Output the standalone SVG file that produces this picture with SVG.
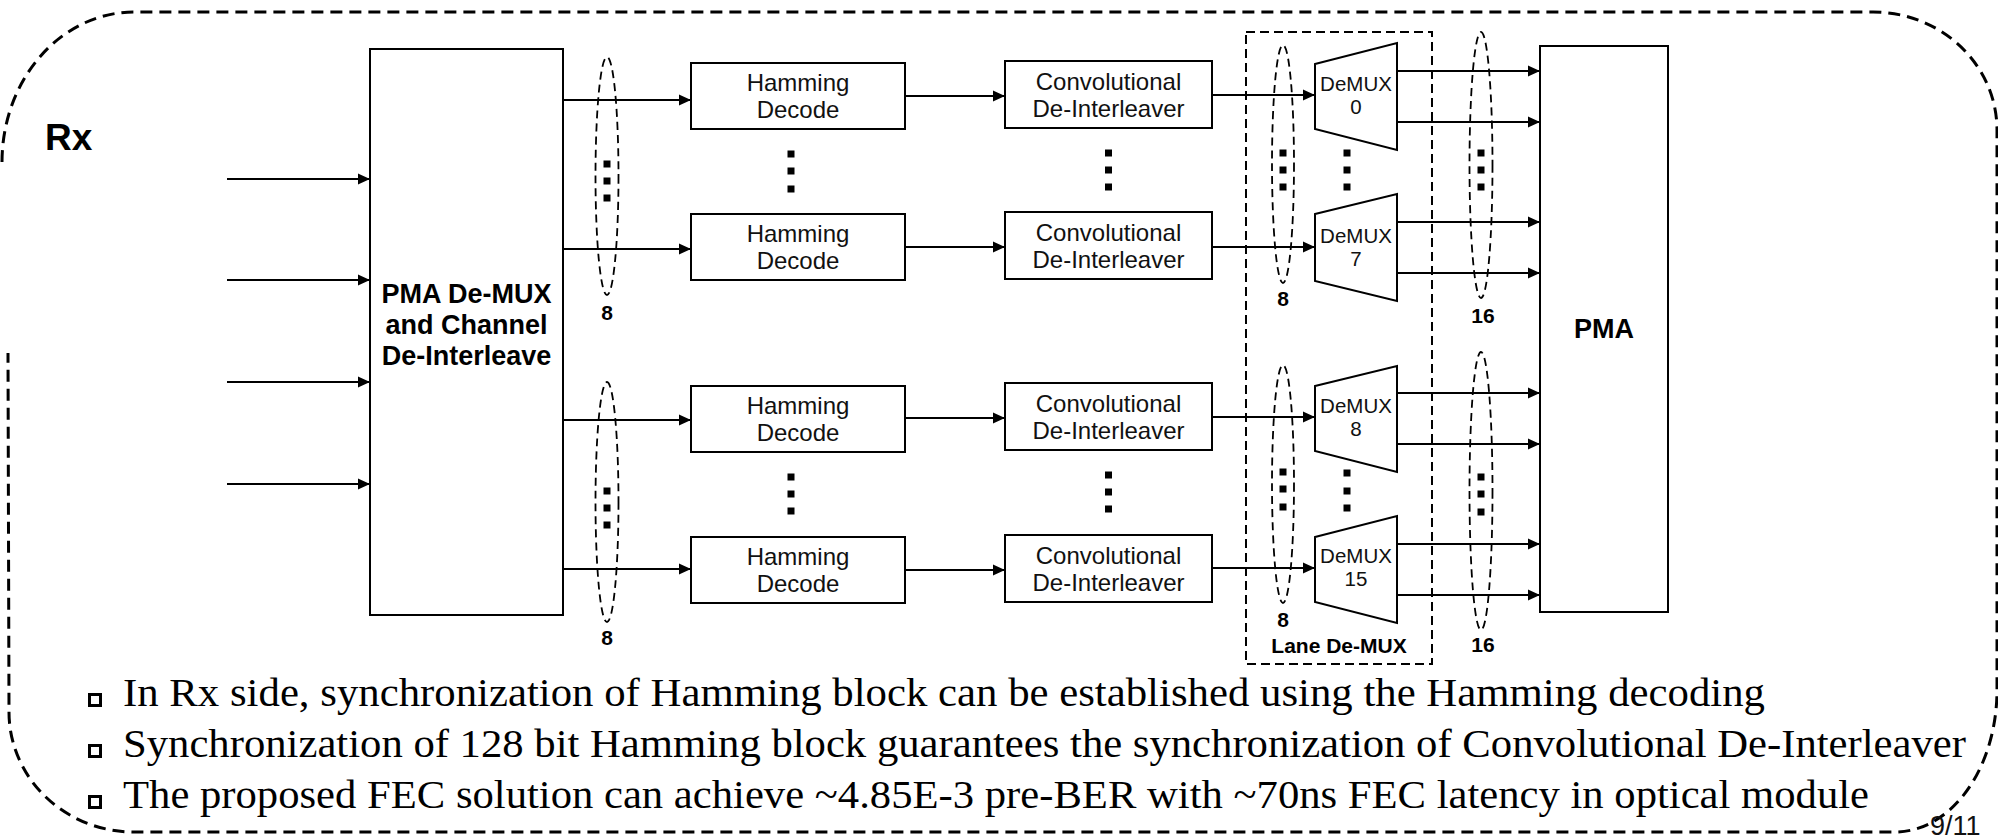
<svg xmlns="http://www.w3.org/2000/svg" width="1998" height="837" viewBox="0 0 1998 837">
<defs>
<marker id="ah" markerUnits="userSpaceOnUse" markerWidth="13" markerHeight="12" refX="12" refY="6" orient="auto">
<path d="M0,0.5 L12,6 L0,11.5 z" fill="#000"/>
</marker>
<style>
.box{fill:#fff;stroke:#000;stroke-width:2}
.ln{stroke:#000;stroke-width:2;fill:none}
.arr{stroke:#000;stroke-width:2;fill:none;marker-end:url(#ah)}
.ell{fill:none;stroke:#000;stroke-width:1.8;stroke-dasharray:8 5}
.dot{fill:#000}
.t{font-family:"Liberation Sans",Arial,sans-serif;font-size:24px;text-anchor:middle;fill:#111}
.tb{font-family:"Liberation Sans",Arial,sans-serif;font-weight:bold;text-anchor:middle;fill:#000}
.dm{font-family:"Liberation Sans",Arial,sans-serif;font-size:20.5px;text-anchor:middle;fill:#111}
.lab{font-family:"Liberation Sans",Arial,sans-serif;font-weight:bold;font-size:21px;text-anchor:middle;fill:#000}
.bt{font-family:"Liberation Serif","Times New Roman",serif;font-size:41px;fill:#000}
.bul{fill:#fff;stroke:#000;stroke-width:3}
</style>
</defs>
<rect width="1998" height="837" fill="#fff"/>

<g id="frame">
<path d="M 2,162 A 132,150 0 0 1 134,12 L 1873,12 A 124,118 0 0 1 1997,130 L 1997,690 A 102,142 0 0 1 1895,832 L 134,832 A 125,120 0 0 1 9,712 L 8,353" fill="none" stroke="#000" stroke-width="3" stroke-dasharray="12 7"/>
<text x="45" y="150" font-family="'Liberation Sans',Arial,sans-serif" font-weight="bold" font-size="37">Rx</text>
</g>

<g id="lane-demux-group">
<rect x="1246" y="32" width="186" height="632" fill="none" stroke="#000" stroke-width="2" stroke-dasharray="9 5"/>
<text class="lab" x="1339" y="653" font-size="23">Lane De-MUX</text>
</g>

<g id="connectors">
<line class="arr" x1="227" y1="179" x2="370" y2="179"/>
<line class="arr" x1="227" y1="280" x2="370" y2="280"/>
<line class="arr" x1="227" y1="382" x2="370" y2="382"/>
<line class="arr" x1="227" y1="484" x2="370" y2="484"/>

<line class="arr" x1="563" y1="100" x2="691" y2="100"/>
<line class="arr" x1="563" y1="249" x2="691" y2="249"/>
<line class="arr" x1="563" y1="420" x2="691" y2="420"/>
<line class="arr" x1="563" y1="569" x2="691" y2="569"/>

<line class="arr" x1="905" y1="96" x2="1005" y2="96"/>
<line class="arr" x1="905" y1="247" x2="1005" y2="247"/>
<line class="arr" x1="905" y1="418" x2="1005" y2="418"/>
<line class="arr" x1="905" y1="570" x2="1005" y2="570"/>

<line class="arr" x1="1212" y1="95" x2="1315" y2="95"/>
<line class="arr" x1="1212" y1="247" x2="1315" y2="247"/>
<line class="arr" x1="1212" y1="417" x2="1315" y2="417"/>
<line class="arr" x1="1212" y1="568" x2="1315" y2="568"/>

<line class="arr" x1="1397" y1="71" x2="1540" y2="71"/>
<line class="arr" x1="1397" y1="122" x2="1540" y2="122"/>
<line class="arr" x1="1397" y1="222" x2="1540" y2="222"/>
<line class="arr" x1="1397" y1="273" x2="1540" y2="273"/>
<line class="arr" x1="1397" y1="393" x2="1540" y2="393"/>
<line class="arr" x1="1397" y1="444" x2="1540" y2="444"/>
<line class="arr" x1="1397" y1="544" x2="1540" y2="544"/>
<line class="arr" x1="1397" y1="595" x2="1540" y2="595"/>

<ellipse class="ell" cx="607" cy="176" rx="11.5" ry="119"/>
<ellipse class="ell" cx="607" cy="502" rx="11.5" ry="120"/>
<ellipse class="ell" cx="1283" cy="164" rx="11" ry="119"/>
<ellipse class="ell" cx="1283" cy="484" rx="11" ry="119"/>
<ellipse class="ell" cx="1481" cy="165" rx="11.5" ry="133"/>
<ellipse class="ell" cx="1481" cy="491" rx="11.5" ry="139"/>

<g class="dot">
<rect x="603.5" y="160.5" width="7" height="7"/><rect x="603.5" y="177.5" width="7" height="7"/><rect x="603.5" y="194.5" width="7" height="7"/>
<rect x="603.5" y="487.5" width="7" height="7"/><rect x="603.5" y="504.5" width="7" height="7"/><rect x="603.5" y="521.5" width="7" height="7"/>
<rect x="1279.5" y="149.5" width="7" height="7"/><rect x="1279.5" y="166.5" width="7" height="7"/><rect x="1279.5" y="183.5" width="7" height="7"/>
<rect x="1279.5" y="468.5" width="7" height="7"/><rect x="1279.5" y="485.5" width="7" height="7"/><rect x="1279.5" y="503.5" width="7" height="7"/>
<rect x="1477.5" y="149.5" width="7" height="7"/><rect x="1477.5" y="166.5" width="7" height="7"/><rect x="1477.5" y="183.5" width="7" height="7"/>
<rect x="1477.5" y="473.5" width="7" height="7"/><rect x="1477.5" y="490.5" width="7" height="7"/><rect x="1477.5" y="508.5" width="7" height="7"/>
</g>
<text class="lab" x="607" y="320">8</text>
<text class="lab" x="607" y="645">8</text>
<text class="lab" x="1283" y="306">8</text>
<text class="lab" x="1283" y="627">8</text>
<text class="lab" x="1483" y="323">16</text>
<text class="lab" x="1483" y="652">16</text>
</g>

<g id="ellipsis-dots" class="dot">
<rect x="787.5" y="150.5" width="7" height="7"/><rect x="787.5" y="167.5" width="7" height="7"/><rect x="787.5" y="185.5" width="7" height="7"/>
<rect x="787.5" y="473.5" width="7" height="7"/><rect x="787.5" y="490.5" width="7" height="7"/><rect x="787.5" y="507.5" width="7" height="7"/>
<rect x="1105" y="149.5" width="7" height="7"/><rect x="1105" y="166.5" width="7" height="7"/><rect x="1105" y="183.5" width="7" height="7"/>
<rect x="1105" y="471.5" width="7" height="7"/><rect x="1105" y="488.5" width="7" height="7"/><rect x="1105" y="505.5" width="7" height="7"/>
<rect x="1343.5" y="149.5" width="7" height="7"/><rect x="1343.5" y="166.5" width="7" height="7"/><rect x="1343.5" y="183.5" width="7" height="7"/>
<rect x="1343.5" y="469.5" width="7" height="7"/><rect x="1343.5" y="487.5" width="7" height="7"/><rect x="1343.5" y="504.5" width="7" height="7"/>
</g>

<g id="pma-demux">
<rect class="box" x="370" y="49" width="193" height="566"/>
<text class="tb" font-size="27" x="466.5" y="303">PMA De-MUX</text>
<text class="tb" font-size="27" x="466.5" y="334">and Channel</text>
<text class="tb" font-size="27" x="466.5" y="365">De-Interleave</text>
</g>

<g id="hamming-0">
<rect class="box" x="691" y="63" width="214" height="66"/>
<text class="t" x="798" y="91">Hamming</text><text class="t" x="798" y="118">Decode</text>
</g>
<g id="hamming-7">
<rect class="box" x="691" y="214" width="214" height="66"/>
<text class="t" x="798" y="242">Hamming</text><text class="t" x="798" y="269">Decode</text>
</g>
<g id="hamming-8">
<rect class="box" x="691" y="386" width="214" height="66"/>
<text class="t" x="798" y="414">Hamming</text><text class="t" x="798" y="441">Decode</text>
</g>
<g id="hamming-15">
<rect class="box" x="691" y="537" width="214" height="66"/>
<text class="t" x="798" y="565">Hamming</text><text class="t" x="798" y="592">Decode</text>
</g>

<g id="conv-0">
<rect class="box" x="1005" y="61" width="207" height="67"/>
<text class="t" x="1108.5" y="90">Convolutional</text><text class="t" x="1108.5" y="117">De-Interleaver</text>
</g>
<g id="conv-7">
<rect class="box" x="1005" y="212" width="207" height="67"/>
<text class="t" x="1108.5" y="241">Convolutional</text><text class="t" x="1108.5" y="268">De-Interleaver</text>
</g>
<g id="conv-8">
<rect class="box" x="1005" y="383" width="207" height="67"/>
<text class="t" x="1108.5" y="412">Convolutional</text><text class="t" x="1108.5" y="439">De-Interleaver</text>
</g>
<g id="conv-15">
<rect class="box" x="1005" y="535" width="207" height="67"/>
<text class="t" x="1108.5" y="564">Convolutional</text><text class="t" x="1108.5" y="591">De-Interleaver</text>
</g>

<g id="demux-0">
<polygon class="box" points="1315,64 1397,43 1397,150 1315,129"/>
<text class="dm" x="1356" y="91">DeMUX</text><text class="dm" x="1356" y="114">0</text>
</g>
<g id="demux-7">
<polygon class="box" points="1315,214 1397,194 1397,301 1315,281"/>
<text class="dm" x="1356" y="243">DeMUX</text><text class="dm" x="1356" y="266">7</text>
</g>
<g id="demux-8">
<polygon class="box" points="1315,386 1397,366 1397,472 1315,451"/>
<text class="dm" x="1356" y="413">DeMUX</text><text class="dm" x="1356" y="436">8</text>
</g>
<g id="demux-15">
<polygon class="box" points="1315,537 1397,516 1397,623 1315,602"/>
<text class="dm" x="1356" y="563">DeMUX</text><text class="dm" x="1356" y="586">15</text>
</g>

<g id="pma">
<rect class="box" x="1540" y="46" width="128" height="566"/>
<text class="tb" font-size="27" x="1604" y="338">PMA</text>
</g>

<g id="notes">
<rect class="bul" x="89.5" y="694.5" width="11" height="11"/>
<rect class="bul" x="89.5" y="745.5" width="11" height="11"/>
<rect class="bul" x="89.5" y="796.5" width="11" height="11"/>
<text class="bt" x="123" y="706" textLength="1642" lengthAdjust="spacingAndGlyphs">In Rx side, synchronization of Hamming block can be established using the Hamming decoding</text>
<text class="bt" x="123" y="757" textLength="1843" lengthAdjust="spacingAndGlyphs">Synchronization of 128 bit Hamming block guarantees the synchronization of Convolutional De-Interleaver</text>
<text class="bt" x="123" y="808" textLength="1746" lengthAdjust="spacingAndGlyphs">The proposed FEC solution can achieve ~4.85E-3 pre-BER with ~70ns FEC latency in optical module</text>
<text x="1930" y="835" font-family="'Liberation Sans',Arial,sans-serif" font-size="27" fill="#111">9/11</text>
</g>
</svg>
